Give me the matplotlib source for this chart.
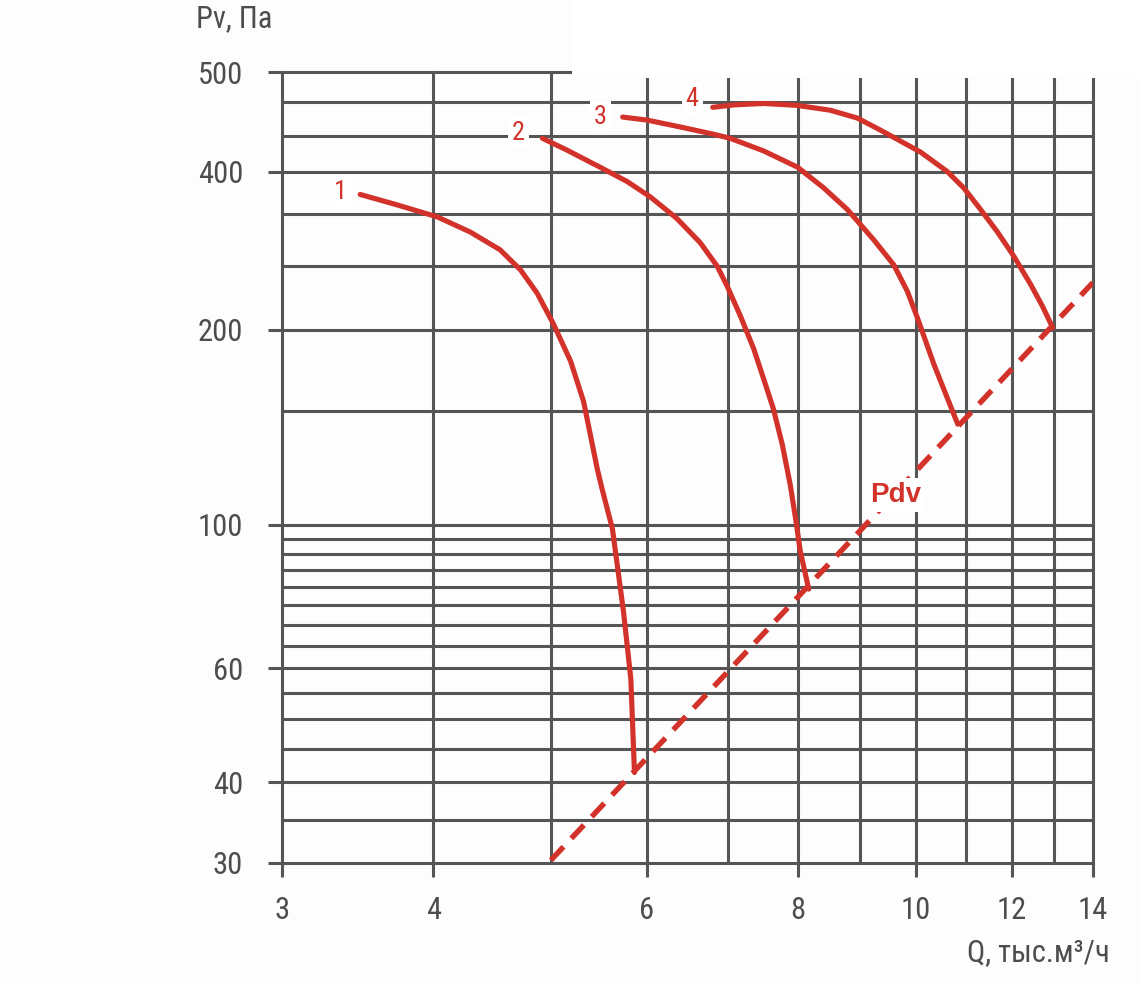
import numpy as np
import matplotlib.pyplot as plt
from matplotlib.patches import Rectangle
from matplotlib.ticker import FixedLocator, FixedFormatter, NullFormatter

# расход Q, тыс.м3/ч и давление Pv, Па
q1 = [3.48, 3.73, 4.03, 4.29, 4.54, 4.72, 4.87, 5.02, 5.19, 5.32, 5.46, 5.51, 5.62, 5.74, 5.82, 5.86]
p1 = [362, 346, 328, 307, 284, 260, 235, 206, 179, 155, 122, 113.6, 98.5, 73.2, 57.7, 41.4]

q2 = [4.92, 5.15, 5.49, 5.78, 6.04, 6.35, 6.64, 6.86, 6.99, 7.17, 7.35, 7.49, 7.63, 7.76, 7.88, 7.96, 8.03, 8.16]
p2 = [431, 420, 404, 383, 358, 326, 293, 264, 242, 212, 187, 168, 151, 133, 115, 102, 91, 79.5]

q3 = [5.73, 6.00, 6.40, 6.81, 7.03, 7.49, 7.99, 8.39, 8.78, 9.23, 9.59, 9.84, 10.03, 10.35, 10.83]
p3 = [452, 449, 442, 435, 431, 419, 404, 373, 339, 297, 266, 237, 211, 177, 143]

q4 = [6.80, 7.08, 7.49, 7.98, 8.50, 8.95, 9.35, 10.09, 10.62, 10.96, 11.31, 11.68, 12.05, 12.44, 12.72, 12.97]
p4 = [462, 464.5, 466, 464, 459, 451, 439, 418, 400, 372, 339, 307, 276, 244, 222, 202]

# линия динамического давления
q_pdv = [5.0, 14.0]
p_pdv = [30.3, 246]

x_ticks = [3, 4, 6, 8, 10, 12, 14]
x_grid = [5, 7, 9, 11, 13]
y_ticks = [30, 40, 60, 100, 200, 400, 500]
y_grid = [35, 45, 50, 55, 65, 70, 75, 80, 85, 90, 95, 150, 265, 333, 433, 468]

RED = '#d2322a'
GRID = '#555555'
TXT = '#4d4d4d'

plt.rcParams['font.family'] = ['Roboto Condensed', 'Roboto', 'DejaVu Sans']

# шкала по оси Y на исходной картинке неравномерная (кусочно-логарифмическая)
Y_KNOTS = np.log10([30, 200, 400, 500])
Y_POS = [0.0, 0.674, 0.874, 1.0]

def fwd(v):
    v = np.asarray(v, dtype=float)
    lv = np.log10(np.where(v > 0, v, 1e-9))
    return np.interp(lv, Y_KNOTS, Y_POS)

def inv(t):
    t = np.asarray(t, dtype=float)
    return 10 ** np.interp(t, Y_POS, Y_KNOTS)


fig = plt.figure(figsize=(11.41, 9.85), dpi=100)
fig.patch.set_facecolor('#fdfdfd')
ax = fig.add_axes([0.2472, 0.1239, 0.7106, 0.8030])
ax.set_facecolor('#fdfdfd')

ax.set_xscale('log')
ax.set_yscale('function', functions=(fwd, inv))
ax.set_xlim(3, 14)
ax.set_ylim(30, 500)

ax.xaxis.set_major_locator(FixedLocator(x_ticks))
ax.xaxis.set_major_formatter(FixedFormatter([str(v) for v in x_ticks]))
ax.xaxis.set_minor_locator(FixedLocator(x_grid))
ax.xaxis.set_minor_formatter(NullFormatter())
ax.yaxis.set_major_locator(FixedLocator(y_ticks))
ax.yaxis.set_major_formatter(FixedFormatter([str(v) for v in y_ticks]))
ax.yaxis.set_minor_locator(FixedLocator(y_grid))
ax.yaxis.set_minor_formatter(NullFormatter())

for s in ax.spines.values():
    s.set_visible(False)

ax.tick_params(which='major', length=10, width=2.2, color=GRID, labelcolor=TXT, labelsize=22)
ax.tick_params(axis='y', which='major', pad=18)
ax.tick_params(axis='x', which='major', pad=14)
ax.tick_params(which='minor', length=0)

ax.set_axisbelow(True)
ax.grid(which='both', color=GRID, lw=2.2)
for ln in ax.get_xgridlines() + ax.get_ygridlines():
    ln.set_clip_on(False)

# кривые
for q, p in [(q1, p1), (q2, p2), (q3, p3), (q4, p4)]:
    ax.plot(q, p, color=RED, lw=3.7, solid_capstyle='round', solid_joinstyle='round', zorder=3)

ax.plot(q_pdv, p_pdv, color=RED, lw=3.9, dashes=(3.4, 2.1), dash_capstyle='butt', zorder=3)

box = dict(boxstyle='square,pad=0.15', fc='white', ec='none')
ax.text(3.35, 366, '1', color=RED, fontsize=19, ha='center', va='center', bbox=box, zorder=4)
ax.text(4.70, 436, '2', color=RED, fontsize=19, ha='center', va='center', bbox=box, zorder=4)
ax.text(5.49, 452, '3', color=RED, fontsize=19, ha='center', va='center', bbox=box, zorder=4)
ax.text(6.54, 471, '4', color=RED, fontsize=19, ha='center', va='center', bbox=box, zorder=4)
ax.text(9.62, 111, 'Pdv', color=RED, fontsize=20, fontweight='bold',
        family=['Liberation Sans', 'DejaVu Sans'], ha='center', va='center', bbox=box, zorder=4)

# белая полоса сверху справа, как на исходнике
fig.patches.append(Rectangle((572 / 1141, 0.9208), 1, 0.1, transform=fig.transFigure,
                             fc='white', ec='none', zorder=5))

fig.text(0.1718, 0.9807, 'Pv, Па', color=TXT, fontsize=22, ha='left', va='center')
fig.text(0.9728, 0.0325, 'Q, тыс.м³/ч', color=TXT, fontsize=22, ha='right', va='center')

fig.savefig('out.png', dpi=100, facecolor=fig.get_facecolor())
